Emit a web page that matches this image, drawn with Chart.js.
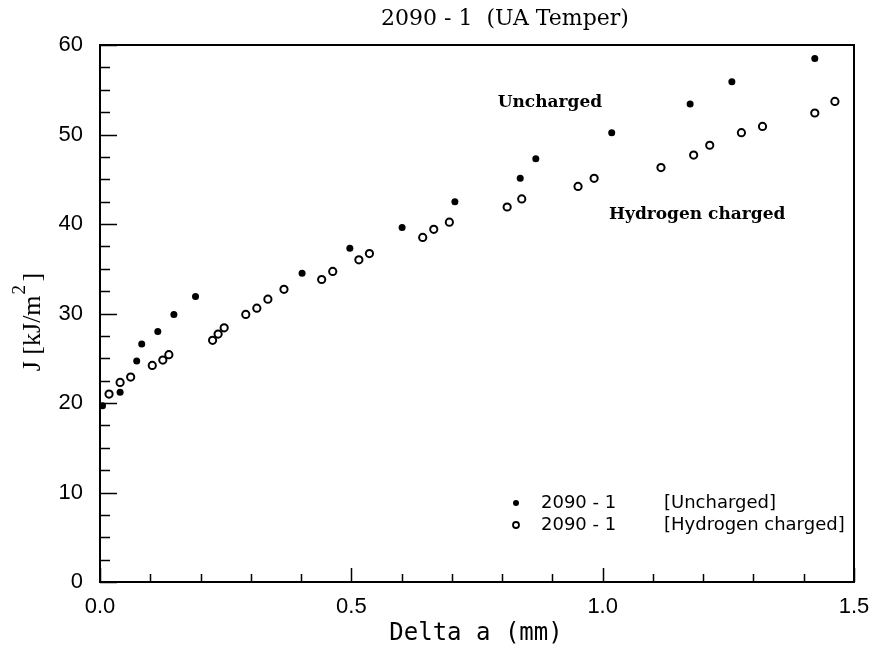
<!DOCTYPE html>
<html>
<head>
<meta charset="utf-8">
<script src="https://cdn.jsdelivr.net/npm/chart.js@4/dist/chart.umd.min.js"></script>
<style>
  body { margin: 0; background: #fff; }
  #wrap { width: 872px; height: 654px; }
</style>
</head>
<body>
<div id="wrap"><canvas id="myChart" width="872" height="654"></canvas></div>
<script>
// Delta a (mm) and J (kJ/m^2)
let unchargedX = [0.005, 0.040, 0.073, 0.083, 0.115, 0.147, 0.190, 0.402, 0.497, 0.601, 0.706, 0.836, 0.867, 1.018, 1.174, 1.257, 1.422];
let unchargedJ = [19.7, 21.2, 24.7, 26.6, 28.0, 29.9, 31.9, 34.5, 37.3, 39.6, 42.5, 45.1, 47.3, 50.2, 53.4, 55.9, 58.5];

let hydrogenX = [0.018, 0.040, 0.061, 0.104, 0.125, 0.137, 0.224, 0.235, 0.247, 0.290, 0.312, 0.334, 0.366, 0.441, 0.463,
  0.515, 0.536, 0.642, 0.664, 0.695, 0.810, 0.839, 0.951, 0.983, 1.116, 1.181, 1.213, 1.276, 1.318, 1.422, 1.462];
let hydrogenJ = [21.0, 22.3, 22.9, 24.2, 24.8, 25.4, 27.0, 27.7, 28.4, 29.9, 30.6, 31.6, 32.7, 33.8, 34.7,
  36.0, 36.7, 38.5, 39.4, 40.2, 41.9, 42.8, 44.2, 45.1, 46.3, 47.7, 48.8, 50.2, 50.9, 52.4, 53.7];

let xTicks = [0, 0.5, 1.0, 1.5];
let yTicks = [0, 10, 20, 30, 40, 50, 60];

let chartTitle = '2090 - 1  (UA Temper)';
let xTitle = 'Delta a (mm)';
let seriesNames = ['2090 - 1', '2090 - 1'];
let seriesTags = ['[Uncharged]', '[Hydrogen charged]'];
let notes = [
  { text: 'Uncharged', x: 0.895, y: 53.6 },
  { text: 'Hydrogen charged', x: 1.188, y: 41.1 }
];

function toPoints(xs, ys) {
  let pts = [];
  for (let i = 0; i < xs.length; i++) {
    pts.push({ x: xs[i], y: ys[i] });
  }
  return pts;
}

// box, inward ticks, titles, notes and legend
let decor = {
  id: 'decor',
  afterDraw(chart) {
    let ctx = chart.ctx;
    let a = chart.chartArea;
    let xs = chart.scales.x;
    let ys = chart.scales.y;
    ctx.save();
    ctx.strokeStyle = '#000';
    ctx.lineWidth = 2;
    ctx.strokeRect(a.left, a.top, a.right - a.left, a.bottom - a.top);

    ctx.lineWidth = 1.5;
    ctx.beginPath();
    for (let v = 0; v <= 60.01; v += 2.5) {
      let py = Math.round(ys.getPixelForValue(v)) + 0.5;
      let len = (Math.abs(v % 10) < 0.01) ? 17 : 10;
      ctx.moveTo(a.left, py);
      ctx.lineTo(a.left + len, py);
    }
    for (let k = 0; k <= 15; k++) {
      let px = Math.round(xs.getPixelForValue(k / 10)) + 0.5;
      let len = (k % 5 === 0) ? 14 : 8;
      ctx.moveTo(px, a.bottom);
      ctx.lineTo(px, a.bottom - len);
    }
    ctx.stroke();

    ctx.fillStyle = '#000';
    ctx.textBaseline = 'middle';

    ctx.font = '22px "DejaVu Serif"';
    ctx.textAlign = 'center';
    ctx.fillText(chartTitle, 505, 19);

    ctx.font = '24px "DejaVu Sans Mono"';
    ctx.fillText(xTitle, 476, 634);

    // y title, rotated, with superscript 2
    ctx.save();
    ctx.translate(33, 322);
    ctx.rotate(-Math.PI / 2);
    ctx.font = '26px "Liberation Serif"';
    ctx.textAlign = 'left';
    let main = 'J [kJ/m';
    let w1 = ctx.measureText(main).width;
    let w2 = 14;
    let w3 = ctx.measureText(']').width;
    let start = -(w1 + w2 + w3) / 2;
    ctx.fillText(main, start, 0);
    ctx.font = '19px "Liberation Serif"';
    ctx.fillText('2', start + w1 + 1, -13);
    ctx.font = '26px "Liberation Serif"';
    ctx.fillText(']', start + w1 + w2, 0);
    ctx.restore();

    ctx.font = 'bold 17px "DejaVu Serif"';
    ctx.textAlign = 'center';
    notes.forEach(function (n) {
      ctx.fillText(n.text, xs.getPixelForValue(n.x), ys.getPixelForValue(n.y));
    });

    // legend
    let rows = [503, 525];
    ctx.font = '18px "DejaVu Sans"';
    ctx.textAlign = 'left';
    for (let i = 0; i < 2; i++) {
      let y = rows[i];
      ctx.beginPath();
      if (i === 0) {
        ctx.arc(516, y, 3, 0, Math.PI * 2);
        ctx.fill();
      } else {
        ctx.lineWidth = 1.8;
        ctx.arc(516, y, 3, 0, Math.PI * 2);
        ctx.stroke();
      }
      ctx.fillText(seriesNames[i], 541, y);
      ctx.fillText(seriesTags[i], 664, y);
    }
    ctx.restore();
  }
};

let ctx = document.getElementById('myChart').getContext('2d');

let chart = new Chart(ctx, {
  type: 'scatter',
  data: {
    datasets: [
      {
        label: 'Uncharged',
        data: toPoints(unchargedX, unchargedJ),
        pointStyle: 'circle',
        pointRadius: 3.5,
        backgroundColor: '#000',
        borderColor: '#000',
        borderWidth: 0
      },
      {
        label: 'Hydrogen charged',
        data: toPoints(hydrogenX, hydrogenJ),
        pointStyle: 'circle',
        pointRadius: 3.6,
        backgroundColor: '#fff',
        borderColor: '#000',
        borderWidth: 2
      }
    ]
  },
  options: {
    responsive: false,
    animation: false,
    layout: { padding: { top: 45, right: 18, left: 0, bottom: 0 } },
    plugins: {
      legend: { display: false },
      title: { display: false },
      tooltip: { enabled: false }
    },
    scales: {
      x: {
        type: 'linear',
        min: 0,
        max: 1.5,
        afterFit: function (s) {
          s.height = 72;
          s.paddingRight = 0;
          s.paddingLeft = 0;
        },
        afterBuildTicks: function (s) { s.ticks = xTicks.map(function (v) { return { value: v }; }); },
        grid: { display: false, drawTicks: false },
        border: { display: false },
        ticks: {
          padding: 12,
          color: '#000',
          font: { family: '"Liberation Sans"', size: 22 },
          callback: function (v) { return v.toFixed(1); }
        }
      },
      y: {
        type: 'linear',
        min: 0,
        max: 60,
        afterFit: function (s) {
          s.width = 100;
          s.paddingTop = 0;
          s.paddingBottom = 0;
        },
        afterBuildTicks: function (s) { s.ticks = yTicks.map(function (v) { return { value: v }; }); },
        grid: { display: false, drawTicks: false },
        border: { display: false },
        ticks: {
          padding: 17,
          color: '#000',
          font: { family: '"Liberation Sans"', size: 22 }
        }
      }
    }
  },
  plugins: [decor]
});
</script>
</body>
</html>
